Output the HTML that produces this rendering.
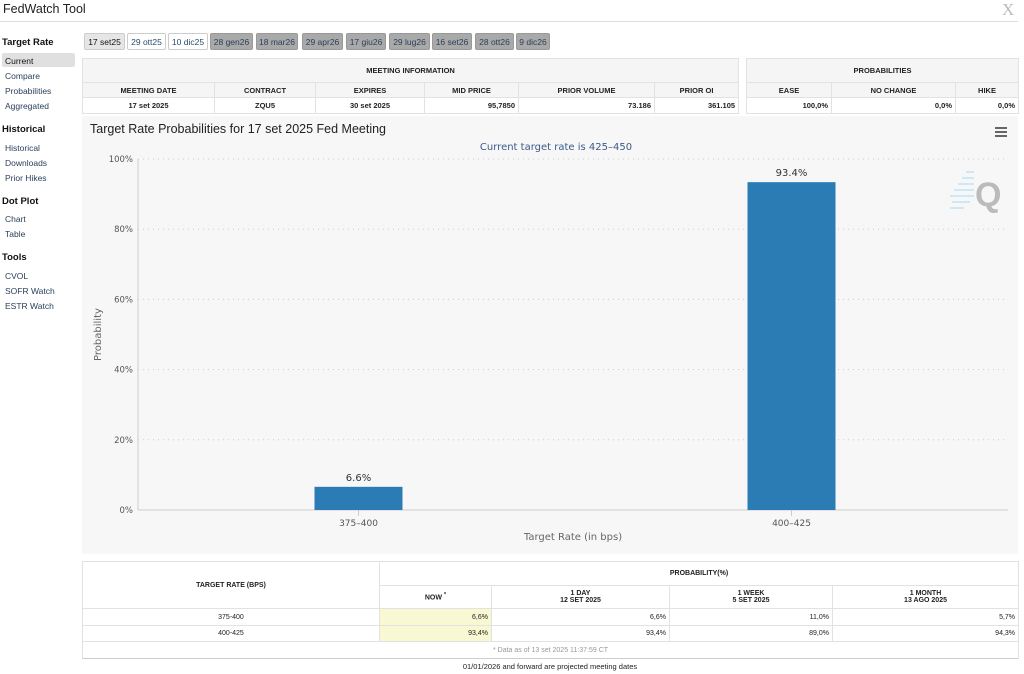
<!DOCTYPE html>
<html><head><meta charset="utf-8"><style>
*{box-sizing:border-box;margin:0;padding:0}
body{width:1024px;height:674px;background:#fff;font-family:"Liberation Sans",Arial,sans-serif;position:relative;overflow:hidden;color:#222}
.a{position:absolute}
.nav{position:absolute;left:5px;font-size:8.5px;color:#2a3f5a}
.sec{position:absolute;left:2px;font-size:9.5px;font-weight:bold;color:#111}
.tab{position:absolute;top:33px;height:17px;font-size:8.5px;line-height:17px;text-align:center;border:1px solid #ccc;border-radius:2px;color:#2a4a70;background:#fff}
.tab.d{background:#a9a9a9;color:#2a3f5a;border-color:#999}
table{border-collapse:collapse;position:absolute;font-size:7.5px;table-layout:fixed}
td{border:1px solid #e2e2e2;padding:0 3px;font-weight:bold;text-align:center;color:#222}
td.r{text-align:right}
.h{background:#f5f5f5}
</style></head><body>
<div class="a" style="left:3px;top:2px;font-size:12.5px;color:#222">FedWatch Tool</div>
<div class="a" style="left:1002px;top:0px;font-size:17px;color:#bbb;font-family:'Liberation Serif',serif">X</div>
<div class="a" style="left:0;top:21px;width:1018px;height:1px;background:#ddd"></div>

<div class="sec" style="top:37px">Target Rate</div>
<div class="a" style="left:2px;top:53px;width:73px;height:14px;background:#e0e0e0;border-radius:2px;font-size:8.5px;padding:3px 0 0 3px;color:#111">Current</div>
<div class="nav" style="top:71px">Compare</div>
<div class="nav" style="top:86px">Probabilities</div>
<div class="nav" style="top:101px">Aggregated</div>
<div class="sec" style="top:124px">Historical</div>
<div class="nav" style="top:143px">Historical</div>
<div class="nav" style="top:158px">Downloads</div>
<div class="nav" style="top:173px">Prior Hikes</div>
<div class="sec" style="top:196px">Dot Plot</div>
<div class="nav" style="top:214px">Chart</div>
<div class="nav" style="top:229px">Table</div>
<div class="sec" style="top:252px">Tools</div>
<div class="nav" style="top:271px">CVOL</div>
<div class="nav" style="top:286px">SOFR Watch</div>
<div class="nav" style="top:301px">ESTR Watch</div>

<div class="tab" style="left:84px;width:41px;background:#e6e6e6;color:#111">17 set25</div>
<div class="tab" style="left:127px;width:39px">29 ott25</div>
<div class="tab" style="left:168px;width:40px">10 dic25</div>
<div class="tab d" style="left:210px;width:43px">28 gen26</div>
<div class="tab d" style="left:256px;width:42px">18 mar26</div>
<div class="tab d" style="left:302px;width:41px">29 apr26</div>
<div class="tab d" style="left:346px;width:40px">17 giu26</div>
<div class="tab d" style="left:389px;width:41px">29 lug26</div>
<div class="tab d" style="left:432px;width:40px">16 set26</div>
<div class="tab d" style="left:475px;width:39px">28 ott26</div>
<div class="tab d" style="left:516px;width:34px">9 dic26</div>

<table style="left:82px;top:58px;width:656px">
<colgroup><col style="width:132px"><col style="width:101px"><col style="width:109px"><col style="width:94px"><col style="width:136px"><col style="width:84px"></colgroup>
<tr style="height:24px" class="h"><td colspan="6">MEETING INFORMATION</td></tr>
<tr style="height:15px" class="h"><td>MEETING DATE</td><td>CONTRACT</td><td>EXPIRES</td><td>MID PRICE</td><td>PRIOR VOLUME</td><td>PRIOR OI</td></tr>
<tr style="height:16px"><td>17 set 2025</td><td>ZQU5</td><td>30 set 2025</td><td class="r">95,7850</td><td class="r">73.186</td><td class="r">361.105</td></tr>
</table>
<table style="left:746px;top:58px;width:272px">
<colgroup><col style="width:85px"><col style="width:124px"><col style="width:63px"></colgroup>
<tr style="height:24px" class="h"><td colspan="3">PROBABILITIES</td></tr>
<tr style="height:15px" class="h"><td>EASE</td><td>NO CHANGE</td><td>HIKE</td></tr>
<tr style="height:16px"><td class="r">100,0%</td><td class="r">0,0%</td><td class="r">0,0%</td></tr>
</table>

<svg class="a" style="left:82px;top:116px" width="936" height="438">
<rect width="936" height="438" fill="#f7f7f7" rx="2"/>
<text x="8" y="17" font-size="12.5" fill="#222" font-family="Liberation Sans">Target Rate Probabilities for 17 set 2025 Fed Meeting</text>
<text x="474" y="34" font-size="10" fill="#3a5a8a" text-anchor="middle" font-family="DejaVu Sans">Current target rate is 425–450</text>
<g fill="#666"><rect x="913" y="11" width="12" height="2"/><rect x="913" y="15" width="12" height="2"/><rect x="913" y="19" width="12" height="2"/></g>
<g><g stroke="#bfe3f5" stroke-width="1.5"><line x1="884" y1="56" x2="892" y2="56"/><line x1="880" y1="62" x2="892" y2="62"/><line x1="876" y1="68" x2="892" y2="68"/><line x1="872" y1="74" x2="892" y2="74"/><line x1="868" y1="80" x2="892" y2="80"/><line x1="870" y1="86" x2="888" y2="86"/><line x1="868" y1="92" x2="882" y2="92"/></g><text x="893" y="90" font-size="34" font-weight="bold" fill="#bbb" font-family="Liberation Sans">Q</text></g>
<g id="plot"></g>
</svg>

<table style="left:82px;top:561px;width:936px;font-size:7px">
<colgroup><col style="width:297px"><col style="width:112px"><col style="width:178px"><col style="width:163px"><col style="width:186px"></colgroup>
<tr style="height:24px"><td rowspan="2">TARGET RATE (BPS)</td><td colspan="4">PROBABILITY(%)</td></tr>
<tr style="height:23px"><td>NOW <sup>*</sup></td><td>1 DAY<br>12 SET 2025</td><td>1 WEEK<br>5 SET 2025</td><td>1 MONTH<br>13 AGO 2025</td></tr>
<tr style="height:17px"><td style="font-weight:normal">375-400</td><td class="r" style="background:#f8f8d2;font-weight:normal">6,6%</td><td class="r" style="font-weight:normal">6,6%</td><td class="r" style="font-weight:normal">11,0%</td><td class="r" style="font-weight:normal">5,7%</td></tr>
<tr style="height:16px"><td style="font-weight:normal">400-425</td><td class="r" style="background:#f8f8d2;font-weight:normal">93,4%</td><td class="r" style="font-weight:normal">93,4%</td><td class="r" style="font-weight:normal">89,0%</td><td class="r" style="font-weight:normal">94,3%</td></tr>
<tr style="height:17px"><td colspan="5" style="font-weight:normal;color:#999">* Data as of 13 set 2025 11:37:59 CT</td></tr>
</table>
<div class="a" style="left:82px;top:658px;width:936px;height:1px;background:#ccc"></div>
<div class="a" style="left:82px;top:662px;width:936px;text-align:center;font-size:7.5px;color:#222">01/01/2026 and forward are projected meeting dates</div>

<script>
const categories = ["375-400", "400-425"];
const values = [6.6, 93.4];
const yTicks = [0, 20, 40, 60, 80, 100];
const NS = "http://www.w3.org/2000/svg";
const g = document.getElementById("plot");
const L = 56, R = 926, Y0 = 394, Y100 = 43;
const CL = 60;
const y = v => Y0 - (v / 100) * (Y0 - Y100);
const band = (R - CL) / categories.length;
const x = i => CL + band * (i + 0.5);
function mk(t, a) { const e = document.createElementNS(NS, t); for (const k in a) e.setAttribute(k, a[k]); g.appendChild(e); return e; }
yTicks.forEach(t => {
  const ln = mk("line", {x1: L, x2: R, y1: y(t), y2: y(t), stroke: "#ccc", "stroke-dasharray": "1,4"});
  
  
  const tx = mk("text", {x: L - 5, y: y(t) + 3, "font-size": 8.5, fill: "#555", "text-anchor": "end", "font-family": "DejaVu Sans"});
  tx.textContent = t + "%";
  
  
});
mk("line", {x1: L, x2: L, y1: Y100, y2: Y0, stroke: "#ccc"});
mk("line", {x1: L, x2: R, y1: Y0, y2: Y0, stroke: "#ccc"});
categories.forEach((c, i) => {
  const bw = 88;
  const r = mk("rect", {x: x(i) - bw / 2, y: y(values[i]), width: bw, height: Y0 - y(values[i]), fill: "#2b7bb5"});
  
  
  const v = mk("text", {x: x(i), y: y(values[i]) - 6, "font-size": 10, fill: "#333", "text-anchor": "middle", "font-family": "DejaVu Sans"});
  v.textContent = values[i].toFixed(1) + "%";
  
  
  mk("line", {x1: x(i), x2: x(i), y1: Y0, y2: Y0 + 6, stroke: "#ccc"});
  const l = mk("text", {x: x(i), y: Y0 + 16, "font-size": 9, fill: "#555", "text-anchor": "middle", "font-family": "DejaVu Sans"});
  l.textContent = c.replace("-", "–");
  
  
});
const xt = mk("text", {x: (L + R) / 2, y: Y0 + 30, "font-size": 10, fill: "#666", "text-anchor": "middle", "font-family": "DejaVu Sans"});
xt.textContent = "Target Rate (in bps)";


const yt = mk("text", {x: 0, y: 0, "font-size": 10, fill: "#666", "text-anchor": "middle", "font-family": "DejaVu Sans", transform: "translate(19," + ((Y0 + Y100) / 2) + ") rotate(-90)"});
yt.textContent = "Probability";


</script>
</body></html>
